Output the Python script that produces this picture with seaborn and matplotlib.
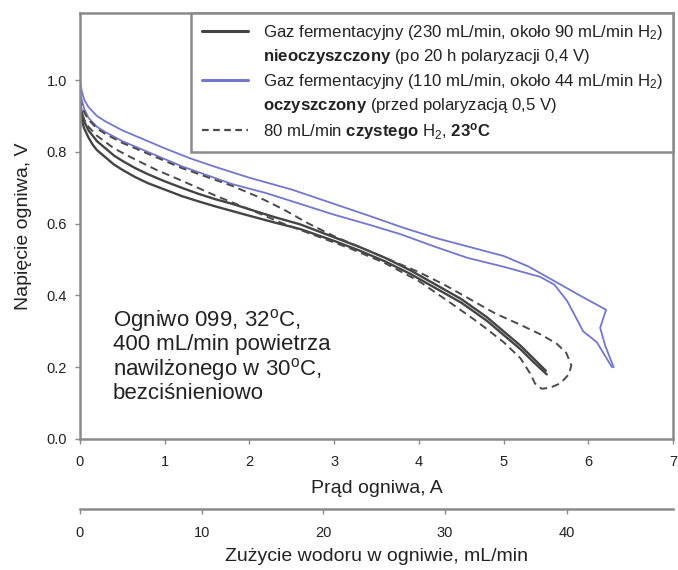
import numpy as np
import pandas as pd
import matplotlib
matplotlib.use("Agg")
import matplotlib.pyplot as plt
import seaborn as sns
from matplotlib.lines import Line2D

# ---- data ----
# unpurified fermentation gas (two sweeps)
solid_a_I = [0.0, 0.02, 0.05, 0.1, 0.15, 0.2, 0.3, 0.4, 0.5, 0.65, 0.8, 1.0, 1.2, 1.4, 1.6, 1.8, 2.0, 2.3, 2.6, 3.0,
             3.3, 3.6, 3.9, 4.2, 4.5, 4.8, 5.0, 5.2, 5.35, 5.51]
solid_a_V = [0.92, 0.89, 0.865, 0.84, 0.82, 0.805, 0.785, 0.765, 0.75, 0.73, 0.713, 0.695, 0.677, 0.662, 0.648, 0.635, 0.622, 0.603, 0.585, 0.552,
             0.525, 0.495, 0.46, 0.42, 0.38, 0.33, 0.29, 0.25, 0.215, 0.18]
solid_b_I = [0.0, 0.02, 0.05, 0.1, 0.15, 0.2, 0.3, 0.4, 0.5, 0.65, 0.8, 1.0, 1.2, 1.4, 1.6, 1.8, 2.0, 2.3, 2.6, 3.0,
             3.3, 3.6, 3.9, 4.2, 4.5, 4.8, 5.0, 5.2, 5.35, 5.5]
solid_b_V = [0.94, 0.91, 0.885, 0.86, 0.845, 0.83, 0.81, 0.79, 0.775, 0.755, 0.738, 0.718, 0.70, 0.683, 0.668, 0.655, 0.64, 0.618, 0.598, 0.562,
             0.535, 0.505, 0.47, 0.43, 0.39, 0.34, 0.30, 0.26, 0.225, 0.19]

# purified fermentation gas (two sweeps)
blue_a_I = [0.0, 0.02, 0.05, 0.1, 0.2, 0.3, 0.5, 0.7, 1.0, 1.3, 1.6, 2.0, 2.5, 3.0, 3.4, 3.8, 4.2, 4.6, 5.0, 5.3,
            5.6, 5.9, 6.21, 6.14, 6.2, 6.25, 6.30]
blue_a_V = [1.0, 0.97, 0.945, 0.925, 0.9, 0.885, 0.86, 0.84, 0.81, 0.782, 0.758, 0.728, 0.695, 0.655, 0.623, 0.59, 0.56, 0.535, 0.51, 0.48,
            0.44, 0.40, 0.36, 0.31, 0.26, 0.23, 0.20]
blue_b_I = [0.0, 0.02, 0.05, 0.1, 0.2, 0.3, 0.5, 0.7, 1.0, 1.2, 1.5, 1.8, 2.2, 2.6, 3.0, 3.4, 3.78, 4.2, 4.57, 5.0,
            5.43, 5.6, 5.75, 5.94, 6.1, 6.28]
blue_b_V = [0.97, 0.945, 0.92, 0.895, 0.87, 0.855, 0.83, 0.81, 0.78, 0.76, 0.735, 0.71, 0.685, 0.655, 0.625, 0.598, 0.571, 0.535, 0.505, 0.48,
            0.452, 0.43, 0.385, 0.30, 0.27, 0.20]

# pure hydrogen (forward sweep, loop, return sweep)
dash_I = [0.0, 0.02, 0.05, 0.1, 0.2, 0.3, 0.5, 0.7, 1.0, 1.2, 1.5, 1.8, 2.1, 2.4, 2.7, 3.0, 3.3, 3.6, 4.0, 4.3,
          4.6, 4.9, 5.2, 5.45, 5.63, 5.74, 5.8, 5.77, 5.67, 5.55, 5.45, 5.37, 5.32,
          5.2, 5.0, 4.7, 4.4, 4.0, 3.6, 3.2, 2.8, 2.4, 2.0, 1.6, 1.2, 0.9, 0.6, 0.4, 0.2, 0.1, 0.05, 0.02, 0.0]
dash_V = [0.95, 0.93, 0.91, 0.89, 0.865, 0.85, 0.825, 0.805, 0.775, 0.755, 0.73, 0.705, 0.675, 0.64, 0.60, 0.565, 0.535, 0.505, 0.465, 0.43,
          0.39, 0.35, 0.318, 0.29, 0.265, 0.24, 0.205, 0.18, 0.155, 0.143, 0.14, 0.155, 0.18,
          0.225, 0.27, 0.325, 0.375, 0.44, 0.49, 0.53, 0.565, 0.60, 0.64, 0.678, 0.72, 0.75, 0.785, 0.81, 0.845, 0.87, 0.89, 0.91, 0.935]

x_ticks = [0, 1, 2, 3, 4, 5, 6, 7]
y_ticks = [0.0, 0.2, 0.4, 0.6, 0.8, 1.0]
h2_ticks = [0, 10, 20, 30, 40]
ml_per_A = 6.96  # mL/min H2 per ampere

legend_labels = [
    "Gaz fermentacyjny (230 mL/min, około 90 mL/min H$_2$)",
    r"$\mathbf{nieoczyszczony}$ (po 20 h polaryzacji 0,4 V)",
    "Gaz fermentacyjny (110 mL/min, około 44 mL/min H$_2$)",
    r"$\mathbf{oczyszczony}$ (przed polaryzacją 0,5 V)",
    r"80 mL/min $\mathbf{czystego}$ H$_2$, $\mathbf{23^{o}C}$",
]
note = "Ogniwo 099, 32$^{\\rm o}$C,\n400 mL/min powietrza\nnawilżonego w 30$^{\\rm o}$C,\nbezciśnieniowo"

# ---- style ----
sns.set_style("ticks")
plt.rcParams["font.family"] = ["Liberation Sans", "DejaVu Sans"]
plt.rcParams["mathtext.fontset"] = "custom"
plt.rcParams["mathtext.rm"] = "Liberation Sans"
plt.rcParams["mathtext.it"] = "Liberation Sans:italic"
plt.rcParams["mathtext.bf"] = "Liberation Sans:bold"

DARK = "#444444"
BLUE = "#7276cf"
DASH = "#4a4a4a"
SPINE = "#8a8a8a"
TXT = "#222222"

fig = plt.figure(figsize=(6.78, 5.70), dpi=100)
ax = fig.add_axes([80 / 678, 131 / 570, 593 / 678, 426 / 570])

def draw(I, V, **kw):
    df = pd.DataFrame({"I": I, "V": V})
    sns.lineplot(data=df, x="I", y="V", sort=False, estimator=None, ax=ax, legend=False, **kw)

draw(solid_a_I, solid_a_V, color=DARK, lw=1.7)
draw(solid_b_I, solid_b_V, color=DARK, lw=1.7)
draw(blue_a_I, blue_a_V, color=BLUE, lw=1.3)
draw(blue_b_I, blue_b_V, color=BLUE, lw=1.3)
draw(dash_I, dash_V, color=DASH, lw=1.4, dashes=(4, 2.5))

ax.set_xlim(0, 7)
ax.set_ylim(0, 1.187)
ax.set_xticks(x_ticks)
ax.set_yticks(y_ticks)
ax.set_yticklabels([f"{v:.1f}" for v in y_ticks])
ax.tick_params(axis="both", direction="out", length=3.5, width=1, color=SPINE,
               labelsize=10.5, labelcolor=TXT)
ax.tick_params(axis="x", pad=8)
ax.tick_params(axis="y", pad=6)
for s in ax.spines.values():
    s.set_color(SPINE)
    s.set_linewidth(1.8)
    s.set_visible(True)

ax.set_xlabel("Prąd ogniwa, A", fontsize=14, color=TXT, labelpad=8)
ax.set_ylabel("Napięcie ogniwa, V", fontsize=14, color=TXT, labelpad=10)

# secondary axis: hydrogen consumption
sec = ax.secondary_xaxis(-70 / 426, functions=(lambda i: np.asarray(i) * ml_per_A,
                                               lambda m: np.asarray(m) / ml_per_A))
sec.set_xticks(h2_ticks)
sec.tick_params(axis="x", direction="out", length=3.5, width=1, color=SPINE,
                labelsize=10.5, labelcolor=TXT, pad=8.5)
sec.spines["bottom"].set_color(SPINE)
sec.spines["bottom"].set_linewidth(1.8)
sec.set_xlabel("Zużycie wodoru w ogniwie, mL/min", fontsize=14, color=TXT, labelpad=6)

# legend
handles = [Line2D([], [], color=DARK, lw=2.2),
           Line2D([], [], color="none"),
           Line2D([], [], color=BLUE, lw=2.2),
           Line2D([], [], color="none"),
           Line2D([], [], color=DASH, lw=1.6, dashes=(3, 2))]
leg = ax.legend(handles, legend_labels, loc="upper right", borderaxespad=0,
                fontsize=12.1, frameon=True, fancybox=False, framealpha=1,
                handlelength=2.75, handletextpad=0.9, labelspacing=0.32,
                borderpad=0.6, labelcolor=TXT)
leg.get_frame().set_edgecolor(SPINE)
leg.get_frame().set_linewidth(1.8)

ax.text(0.39, 0.368, note, fontsize=16, color=TXT, ha="left", va="top",
        linespacing=1.02)

fig.savefig("out.png", dpi=100)
